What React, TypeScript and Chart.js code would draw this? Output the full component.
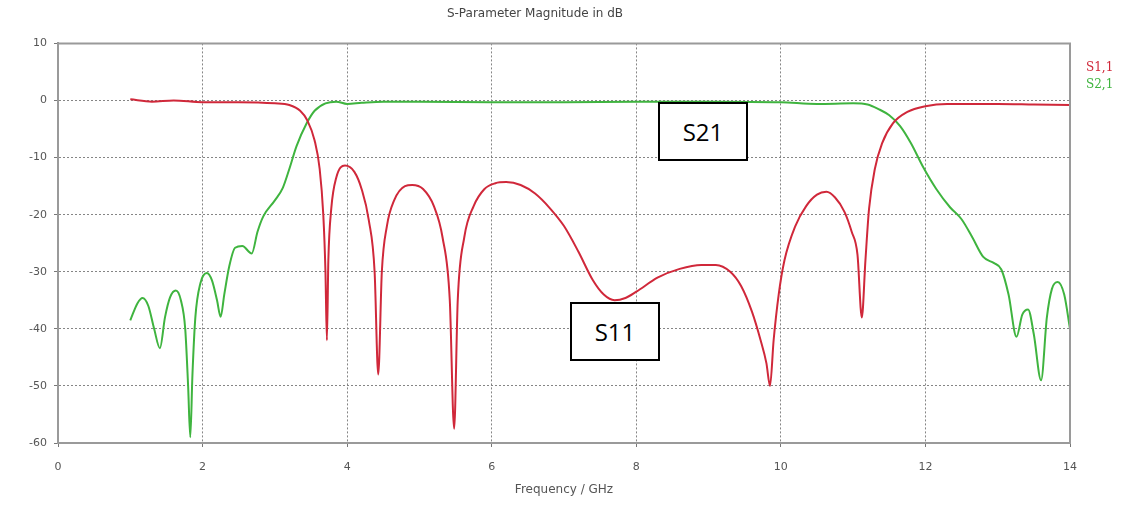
import React, { useEffect, useRef } from "react";
import { Chart, registerables } from "chart.js";

Chart.register(...registerables);

const TITLE = "S-Parameter Magnitude in dB";
const X_LABEL = "Frequency / GHz";
const X_TICKS = [0, 2, 4, 6, 8, 10, 12, 14];
const Y_TICKS = [10, 0, -10, -20, -30, -40, -50, -60];
const SERIES_NAMES = ["S1,1", "S2,1"];
const ANNOTATIONS = ["S21", "S11"];

const s11Freq = [
  1.0, 1.3, 1.6, 2.0, 2.5, 3.0, 3.2, 3.35, 3.45, 3.55, 3.62, 3.67, 3.7, 3.72, 3.74, 3.78, 3.85, 3.97,
  4.1, 4.2, 4.3, 4.38, 4.43, 4.48, 4.55, 4.65, 4.8, 4.9, 5.05, 5.2, 5.32, 5.42, 5.48, 5.53, 5.62, 5.75,
  5.9, 6.05, 6.2, 6.4, 6.6, 6.8, 7.0, 7.2, 7.4, 7.55, 7.7, 7.85, 8.0, 8.3, 8.6, 8.9, 9.1, 9.3, 9.45,
  9.6, 9.72, 9.8, 9.85, 9.9, 9.97, 10.05, 10.2, 10.35, 10.5, 10.63, 10.75, 10.88, 10.98, 11.06, 11.12,
  11.17, 11.22, 11.3, 11.4, 11.55, 11.75, 12.0, 12.3, 13.0, 13.5, 14.0,
];
const s11dB = [
  0.2, -0.2, 0, -0.3, -0.3, -0.5, -0.8, -1.8, -3.5, -7, -12, -20, -30, -42, -28, -19, -13.5, -11.4,
  -12.5, -15.5, -21, -30, -48, -30, -22, -17.5, -15, -14.8, -15.5, -18.5, -24, -35, -57.5, -35, -24, -18.5,
  -15.5, -14.5, -14.3, -14.8, -16.3, -18.8, -22, -26.5, -31.5, -34, -35, -34.6, -33.5, -31, -29.5, -28.8, -28.8, -30, -32.5,
  -37, -42, -46, -50, -42, -34, -28, -22, -18.5, -16.5, -16, -17, -19.5, -23, -27, -38,
  -28, -19, -12, -7.5, -4, -2, -1, -0.6, -0.6, -0.7, -0.8,
];

const s21Freq = [
  1.0, 1.1, 1.17, 1.25, 1.33, 1.41, 1.48, 1.55, 1.63, 1.7, 1.76, 1.8, 1.83, 1.86, 1.9, 1.97, 2.06, 2.13,
  2.2, 2.25, 2.3, 2.37, 2.45, 2.55, 2.68, 2.76, 2.84, 3.0, 3.11, 3.2, 3.3, 3.44, 3.55, 3.7, 3.85, 4.0,
  4.2, 4.5, 5.0, 6.0, 7.0, 8.0, 9.0, 10.0, 10.5, 11.0, 11.2, 11.35, 11.5, 11.65, 11.8, 11.97, 12.15,
  12.34, 12.5, 12.65, 12.8, 12.95, 13.05, 13.15, 13.26, 13.34, 13.42, 13.5, 13.6, 13.68, 13.75, 13.83,
  13.92, 14.0,
];
const s21dB = [
  -38.5, -35.5, -34.6, -36, -40, -43.4, -38, -34.5, -33.3, -35, -40, -50, -59, -48, -38, -32, -30.2, -31.5,
  -35, -37.9, -34, -29, -25.8, -25.5, -26.8, -23, -20.3, -17.5, -15.3, -12, -8, -4, -1.8, -0.5, -0.2, -0.6,
  -0.4, -0.2, -0.2, -0.3, -0.3, -0.2, -0.2, -0.3, -0.6, -0.5, -0.7, -1.5, -2.6, -4.5, -7.5, -11.7, -15.5,
  -18.7, -20.8, -24, -27.4, -28.5, -29.6, -34, -41.4, -37.5, -36.6, -41, -49, -38, -33, -31.8,
  -34, -40,
];

const RED = "#d0283a";
const GREEN = "#3fb43f";
const FRAME = "#9a9a9a";
const GRID = "#858585";
const TEXT = "#555";
const FONT = "'DejaVu Sans'";

const legendPlugin = {
  id: "sideLegend",
  afterDraw(chart: any) {
    const ctx = chart.ctx;
    const area = chart.chartArea;
    ctx.save();
    ctx.font = "12px 'DejaVu Serif'";
    ctx.textAlign = "left";
    ctx.textBaseline = "middle";
    ctx.fillStyle = RED;
    ctx.fillText(SERIES_NAMES[0], area.right + 16, area.top + 24);
    ctx.fillStyle = GREEN;
    ctx.fillText(SERIES_NAMES[1], area.right + 16, area.top + 41);
    ctx.restore();
  },
};

const framePlugin = {
  id: "frame",
  afterDatasetsDraw(c: any) {
    const { ctx, chartArea } = c;
    ctx.save();
    ctx.strokeStyle = FRAME;
    ctx.lineWidth = 2;
    ctx.beginPath();
    ctx.moveTo(chartArea.left, chartArea.top);
    ctx.lineTo(chartArea.right, chartArea.top);
    ctx.lineTo(chartArea.right, chartArea.bottom);
    ctx.stroke();
    ctx.restore();
  },
};

export default function App() {
  const ref = useRef<HTMLCanvasElement | null>(null);

  useEffect(() => {
    if (!ref.current) return;
    const chart = new Chart(ref.current, {
      type: "line",
      data: {
        datasets: [
          {
            label: SERIES_NAMES[0],
            data: s11Freq.map((f, i) => ({ x: f, y: s11dB[i] })),
            borderColor: RED,
            borderWidth: 2,
            pointRadius: 0,
            cubicInterpolationMode: "monotone",
            fill: false,
          },
          {
            label: SERIES_NAMES[1],
            data: s21Freq.map((f, i) => ({ x: f, y: s21dB[i] })),
            borderColor: GREEN,
            borderWidth: 2,
            pointRadius: 0,
            cubicInterpolationMode: "monotone",
            fill: false,
          },
        ],
      },
      options: {
        animation: false,
        responsive: false,
        layout: { padding: { left: 0, top: 0, right: 76, bottom: 0 } },
        plugins: {
          legend: { display: false },
          tooltip: { enabled: false },
          title: {
            display: true,
            text: TITLE,
            color: "#444",
            font: { family: FONT, size: 12, weight: "normal" },
            padding: { top: 7, bottom: 22 },
          },
        },
        scales: {
          x: {
            type: "linear",
            min: 0,
            max: 14,
            afterBuildTicks: (scale: any) => {
              scale.ticks = X_TICKS.map((v) => ({ value: v }));
            },
            afterFit: (scale: any) => {
              scale.height = 63;
            },
            ticks: {
              color: TEXT,
              font: { family: FONT, size: 11 },
              padding: 14,
              maxRotation: 0,
            },
            grid: {
              color: GRID,
              lineWidth: 1,
              tickLength: 4,
              tickColor: "#777",
            },
            border: { display: true, color: FRAME, width: 2, dash: [2, 2] },
            title: {
              display: true,
              text: X_LABEL,
              color: TEXT,
              font: { family: FONT, size: 12 },
              padding: { top: 0, bottom: 9 },
            },
          },
          y: {
            type: "linear",
            min: -60,
            max: 10,
            afterBuildTicks: (scale: any) => {
              scale.ticks = Y_TICKS.map((v) => ({ value: v }));
            },
            afterFit: (scale: any) => {
              scale.width = 58;
            },
            ticks: {
              color: TEXT,
              font: { family: FONT, size: 11 },
              padding: 7,
            },
            grid: {
              color: GRID,
              lineWidth: 1,
              tickLength: 4,
              tickColor: "#777",
            },
            border: { display: true, color: FRAME, width: 2, dash: [2, 2] },
          },
        },
      },
      plugins: [framePlugin, legendPlugin],
    } as any);
    return () => chart.destroy();
  }, []);

  const boxStyle: React.CSSProperties = {
    position: "absolute",
    background: "#fff",
    border: "2px solid #000",
    boxSizing: "border-box",
    display: "flex",
    alignItems: "center",
    justifyContent: "center",
    fontFamily: "'Open Sans', sans-serif",
    fontSize: 24,
    color: "#000",
  };

  return (
    <div style={{ position: "fixed", left: 0, top: 0, width: 1146, height: 506, background: "#fff" }}>
      <canvas ref={ref} width={1146} height={506} style={{ display: "block" }} />
      <div style={{ ...boxStyle, left: 658, top: 102, width: 90, height: 59 }}>{ANNOTATIONS[0]}</div>
      <div style={{ ...boxStyle, left: 570, top: 302, width: 90, height: 59 }}>{ANNOTATIONS[1]}</div>
    </div>
  );
}
